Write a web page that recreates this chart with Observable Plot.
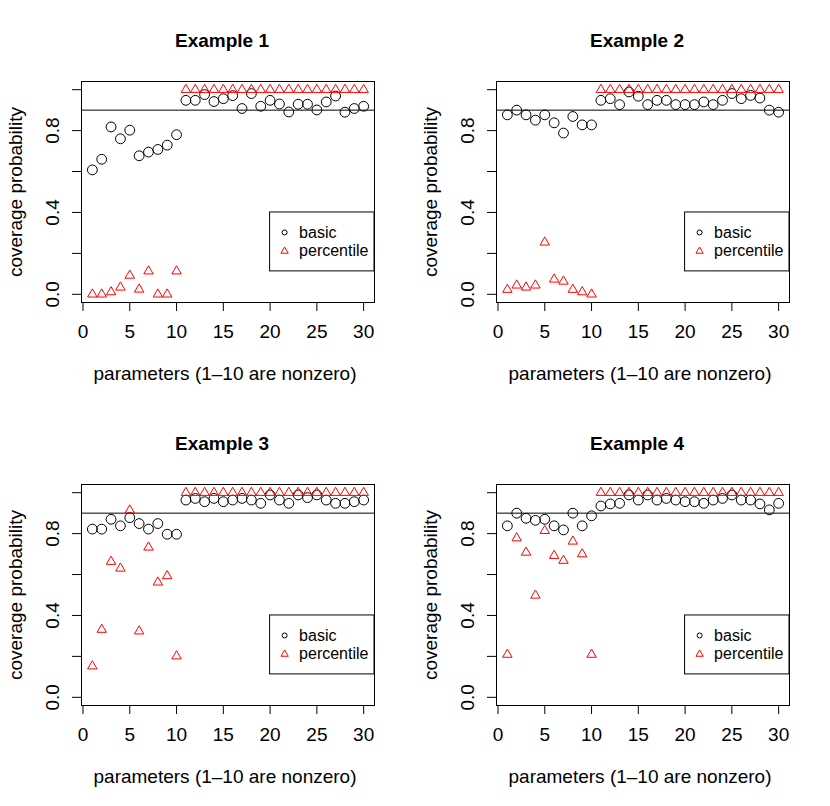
<!DOCTYPE html>
<html>
<head>
<meta charset="utf-8">
<script src="https://cdn.jsdelivr.net/npm/d3@7"></script>
<script src="https://cdn.jsdelivr.net/npm/@observablehq/plot@0.6"></script>
<style>
  html, body { margin: 0; padding: 0; background: white; }
  #grid { display: grid; grid-template-columns: 415px 415px; grid-template-rows: 403px 403px; width: 830px; height: 806px; }
  #grid svg { display: block; }
</style>
</head>
<body>
<div id="grid"></div>
<script>
// ---- data ----
const params = [1,2,3,4,5,6,7,8,9,10,11,12,13,14,15,16,17,18,19,20,21,22,23,24,25,26,27,28,29,30];
const titles = ["Example 1", "Example 2", "Example 3", "Example 4"];
const xTicks = [0, 5, 10, 15, 20, 25, 30];
const yTicks = [0, 0.2, 0.4, 0.6, 0.8, 1.0];
const yTickLabels = [0, 0.4, 0.8];
const legendLabels = ["basic", "percentile"];
const xLabel = "parameters (1\u201310 are nonzero)";
const yLabel = "coverage probability";
const nominal = 0.9;

const ex1Basic = [0.608,0.660,0.818,0.760,0.802,0.677,0.695,0.708,0.729,0.780,
  0.948,0.948,0.976,0.942,0.956,0.971,0.908,0.981,0.919,0.948,
  0.930,0.891,0.929,0.929,0.901,0.940,0.969,0.890,0.908,0.919];
const ex1Pct = [0,0,0.011,0.034,0.092,0.024,0.113,0,0,0.113,
  1,1,1,1,1,1,1,1,1,1,1,1,1,1,1,1,1,1,1,1];

const ex2Basic = [0.877,0.900,0.877,0.851,0.877,0.838,0.788,0.869,0.828,0.828,
  0.948,0.956,0.927,0.989,0.968,0.927,0.948,0.948,0.927,0.927,
  0.927,0.940,0.927,0.948,0.981,0.956,0.972,0.959,0.900,0.890];
const ex2Pct = [0.023,0.044,0.034,0.044,0.254,0.073,0.063,0.023,0.011,0,
  1,1,1,1,1,1,1,1,1,1,1,1,1,1,1,1,1,1,1,1];

const ex3Basic = [0.822,0.822,0.870,0.838,0.878,0.849,0.822,0.849,0.797,0.797,
  0.964,0.972,0.956,0.972,0.956,0.964,0.972,0.964,0.948,0.989,
  0.964,0.948,0.989,0.976,0.989,0.964,0.948,0.948,0.956,0.964];
const ex3Pct = [0.152,0.331,0.663,0.630,0.914,0.323,0.733,0.562,0.593,0.201,
  1,1,1,1,1,1,1,1,1,1,1,1,1,1,1,1,1,1,1,1];

const ex4Basic = [0.838,0.900,0.875,0.865,0.870,0.838,0.818,0.900,0.838,0.887,
  0.935,0.945,0.948,0.989,0.964,0.989,0.964,0.972,0.964,0.956,
  0.956,0.948,0.964,0.972,0.989,0.964,0.964,0.945,0.916,0.948];
const ex4Pct = [0.209,0.778,0.708,0.498,0.814,0.692,0.668,0.762,0.700,0.209,
  1,1,1,1,1,1,1,1,1,1,1,1,1,1,1,1,1,1,1,1];

const basicSeries = [ex1Basic, ex2Basic, ex3Basic, ex4Basic];
const pctSeries = [ex1Pct, ex2Pct, ex3Pct, ex4Pct];

// legend anchor in data coordinates (like legend(20, 0.4, ...))
const legendX = 20, legendY = 0.4, legendBottom = 0.112;

const font = "'Liberation Sans', Arial, Helvetica, sans-serif";

function panel(k) {
  const basic = params.map((p, i) => ({p, v: basicSeries[k][i]}));
  const pct = params.map((p, i) => ({p, v: pctSeries[k][i]}));
  const xDom = [1 - 0.04 * 29, 30 + 0.04 * 29];
  const yDom = [0 - 0.04, 1 + 0.04];
  const anchor = [{x: legendX, y: legendY}];
  return Plot.plot({
    width: 415, height: 403,
    marginLeft: 81, marginRight: 41, marginTop: 81, marginBottom: 101,
    x: {domain: xDom, axis: null},
    y: {domain: yDom, axis: null},
    style: {fontFamily: font, fontSize: "19px", background: "white", color: "black", overflow: "visible"},
    marks: [
      Plot.ruleY([nominal], {stroke: "black", strokeWidth: 1}),
      // legend box
      Plot.rect(anchor, {x1: "x", x2: () => xDom[1], y1: "y", y2: () => legendBottom, fill: "white", stroke: "black", strokeWidth: 1}),
      Plot.dot(anchor, {x: "x", y: "y", dx: 14.5, dy: 20, symbol: "circle", r: 2.5, stroke: "black", fill: "none", strokeWidth: 1}),
      Plot.dot(anchor, {x: "x", y: "y", dx: 14.5, dy: 38.7, symbol: "triangle", r: 2.7, stroke: "red", fill: "none", strokeWidth: 1}),
      Plot.text(anchor, {x: "x", y: "y", dx: 29, dy: 20, text: () => legendLabels[0], textAnchor: "start", lineAnchor: "middle", fontSize: 16, fill: "black"}),
      Plot.text(anchor, {x: "x", y: "y", dx: 29, dy: 38.7, text: () => legendLabels[1], textAnchor: "start", lineAnchor: "middle", fontSize: 16, fill: "black"}),
      // data
      Plot.dot(basic, {x: "p", y: "v", r: 4.9, symbol: "circle", stroke: "black", fill: "none", strokeWidth: 1}),
      Plot.dot(pct, {x: "p", y: "v", r: 3.5, symbol: "triangle", stroke: "red", fill: "none", strokeWidth: 1}),
      // box
      Plot.frame({stroke: "black", strokeWidth: 1}),
      // x axis
      Plot.ruleY([yDom[0]], {x1: () => xTicks[0], x2: () => xTicks[xTicks.length - 1], stroke: "black"}),
      Plot.axisX({ticks: xTicks, tickSize: 9, tickPadding: 12.6, tickFormat: d => String(d), label: null, anchor: "bottom", fontSize: 19, stroke: "black", fill: "black"}),
      // y axis
      Plot.ruleX([xDom[0]], {y1: () => yTicks[0], y2: () => yTicks[yTicks.length - 1], stroke: "black"}),
      Plot.axisY({ticks: yTicks, tickSize: 9, tickFormat: () => "", label: null, anchor: "left", stroke: "black"}),
      Plot.text(yTickLabels, {y: d => d, text: d => d.toFixed(1), frameAnchor: "left", dx: -23, rotate: -90,
        textAnchor: "middle", lineAnchor: "bottom", fontSize: 19, fill: "black"}),
      // labels
      Plot.text([titles[k]], {frameAnchor: "top", dy: -34.3, dx: -6, lineAnchor: "bottom", fontWeight: "bold", fontSize: 19, fill: "black"}),
      Plot.text([xLabel], {frameAnchor: "bottom", dy: 77.8, dx: -3, lineAnchor: "bottom", fontSize: 19, fill: "black"}),
      Plot.text([yLabel], {frameAnchor: "left", dx: -60, rotate: -90, textAnchor: "middle", lineAnchor: "bottom", fontSize: 19, fill: "black"})
    ]
  });
}

const grid = document.getElementById("grid");
for (let k = 0; k < 4; k++) grid.appendChild(panel(k));
</script>
</body>
</html>
